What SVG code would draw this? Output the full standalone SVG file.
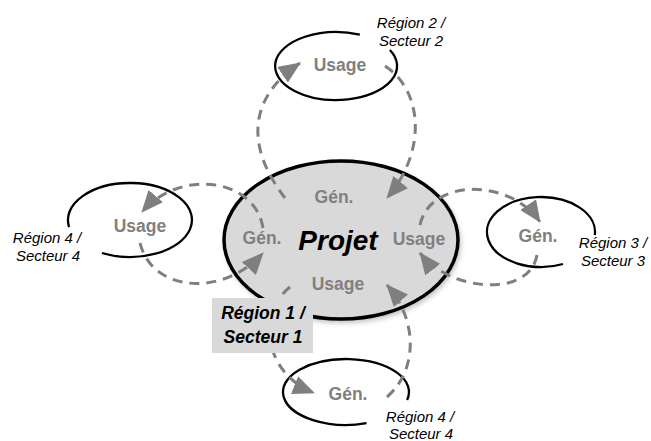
<svg xmlns="http://www.w3.org/2000/svg" width="651" height="441" viewBox="0 0 651 441">
<style>
.ring{fill:none;stroke:#000;stroke-width:2.3}
.lbl{font-family:"Liberation Sans",Arial,sans-serif;font-size:17.5px;font-weight:bold;fill:#808080;text-anchor:middle}
.reg{font-family:"Liberation Sans",Arial,sans-serif;font-size:15px;font-style:italic;fill:#000;text-anchor:middle}
.con{fill:none;stroke:#7f7f7f;stroke-width:3;stroke-dasharray:10 7}
.r1{font-family:"Liberation Sans",Arial,sans-serif;font-size:17.5px;font-weight:bold;font-style:italic;fill:#000;text-anchor:middle}
</style>
<defs>
<marker id="ah" viewBox="0 0 22 19" markerWidth="22" markerHeight="19" refX="21" refY="9.5" orient="auto" markerUnits="userSpaceOnUse">
<path d="M0,0 L22,9.5 L0,19 z" fill="#7f7f7f"/>
</marker>
<filter id="sh" x="-20%" y="-20%" width="140%" height="140%"><feGaussianBlur stdDeviation="2.5"/></filter>
</defs>
<rect width="651" height="441" fill="#fff"/>
<g id="projet">
<ellipse cx="343" cy="243" rx="118" ry="80" fill="#9a9a9a" opacity="0.6" filter="url(#sh)"/>
<ellipse cx="341" cy="240" rx="117" ry="79" fill="#d9d9d9" stroke="#000" stroke-width="3.5"/>
<text x="338" y="250" font-family="'Liberation Sans',Arial,sans-serif" font-size="28" font-weight="bold" font-style="italic" text-anchor="middle" fill="#000">Projet</text>
<text class="lbl" x="334" y="203">Gén.</text>
<text class="lbl" x="262" y="244">Gén.</text>
<text class="lbl" x="419" y="245">Usage</text>
<text class="lbl" x="338" y="290">Usage</text>
</g>
<g id="region2">
<path class="ring" d="M389.9,50 A61,34 0 1 1 359.8,34.7"/>
<text class="lbl" x="340" y="71">Usage</text>
<text class="reg" x="411" y="28">Région 2 /</text>
<text class="reg" x="411" y="46">Secteur 2</text>
</g>
<g id="region4-left">
<path class="ring" d="M69.1,227.1 A62,37 0 1 1 101.9,253"/>
<text class="lbl" x="140" y="232">Usage</text>
<text class="reg" x="47" y="243">Région 4 /</text>
<text class="reg" x="48" y="261">Secteur 4</text>
</g>
<g id="region3">
<path class="ring" d="M563,264 A54,35 0 1 1 594.8,235.1"/>
<text class="lbl" x="538" y="242">Gén.</text>
<text class="reg" x="613" y="248">Région 3 /</text>
<text class="reg" x="613" y="266">Secteur 3</text>
</g>
<g id="region4-bottom">
<path class="ring" d="M366.5,423.2 A63,33 0 1 1 407.1,400"/>
<text class="lbl" x="348" y="400">Gén.</text>
<text class="reg" x="420" y="422">Région 4 /</text>
<text class="reg" x="421" y="439">Secteur 4</text>
</g>
<g id="connectors">
<path class="con" d="M285,198 C248,150 245,100 300,63" marker-end="url(#ah)"/>
<path class="con" d="M385,66 C422,90 428,150 387,198" marker-end="url(#ah)"/>
<path class="con" d="M263,228 C255,178 180,168 142,212" marker-end="url(#ah)"/>
<path class="con" d="M140,243 C152,292 222,298 263,253" marker-end="url(#ah)"/>
<path class="con" d="M420,225 C430,178 510,178 540,222" marker-end="url(#ah)"/>
<path class="con" d="M537,255 C530,298 450,292 420,253" marker-end="url(#ah)"/>
<path class="con" d="M290,287 C258,312 262,372 314,393" marker-end="url(#ah)"/>
<path class="con" d="M387,397 C418,370 418,320 387,285" marker-end="url(#ah)"/>
</g>
<g id="region1">
<rect x="212" y="298" width="101" height="55" fill="#d9d9d9"/>
<text class="r1" x="263" y="319">Région 1 /</text>
<text class="r1" x="263" y="343">Secteur 1</text>
</g>
</svg>
